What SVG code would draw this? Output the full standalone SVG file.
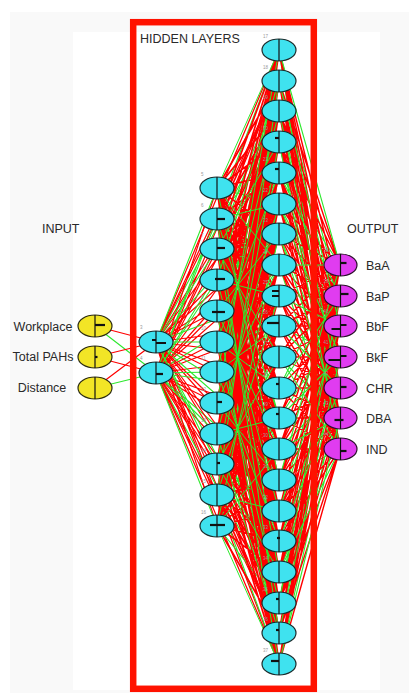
<svg xmlns="http://www.w3.org/2000/svg" width="409" height="693" viewBox="0 0 409 693">
<style>
.r{fill:none;stroke:#ff0000;stroke-width:1.2}
.r2{fill:none;stroke:#ff0000;stroke-width:1.7}
.r3{fill:none;stroke:#ff0000;stroke-width:1.4}
.g{fill:none;stroke:#2ee82e;stroke-width:1.1}
.gt{fill:none;stroke:#2ee82e;stroke-width:1}
.c{fill:#3fe2ef;stroke:#1b2b2b;stroke-width:1.2}
.y{fill:#f2e526;stroke:#2b2b10;stroke-width:1.2}
.m{fill:#e03cf0;stroke:#2b102b;stroke-width:1.2}
.v{stroke:#111;stroke-width:1.2}
.b{stroke:#111;stroke-width:2.2;fill:none}
.i{font-family:"Liberation Sans",Arial,sans-serif;font-size:4.5px;fill:#9a9a9a}
.t{font-family:"Liberation Sans",Arial,sans-serif;font-size:12.5px;fill:#2a2a2a}
</style>
<rect x="10" y="12" width="399" height="681" fill="#f9f9f9"/>
<rect x="73" y="32" width="307" height="658" fill="#ffffff"/>
<g id="connectors">
<path class="r" d="M156 342L279 50M156 342L279 81M156 342L279 142M156 342L279 173M156 342L279 234M156 342L279 265M156 342L279 326M156 342L279 357M156 342L279 388M156 342L279 480M156 342L279 511M156 342L279 541M156 342L279 603M156 342L279 633M156 342L279 664M156 373L279 81M156 373L279 111M156 373L279 142M156 373L279 204M156 373L279 234M156 373L279 265M156 373L279 326M156 373L279 357M156 373L279 418M156 373L279 449M156 373L279 511M156 373L279 541M156 373L279 572M156 373L279 633M156 373L279 664"/>
<path class="g" d="M156 342L279 111M156 342L279 204M156 342L279 296M156 342L279 418M156 342L279 449M156 342L279 572M156 373L279 50M156 373L279 173M156 373L279 296M156 373L279 388M156 373L279 480M156 373L279 603"/>
<path class="r" stroke-width="2.5" d="M95 326L156 342M159 353L162 363"/>
<path class="g" d="M95 326L156 373M95 388L156 373"/>
<path class="r" d="M95 357L156 342M95 357L156 373M95 388L156 342"/>
<path class="r" d="M156 342L217 219M156 342L217 280M156 342L217 311M156 342L217 372M156 342L217 403M156 342L217 434M156 342L217 495M156 342L217 526M156 373L217 188M156 373L217 249M156 373L217 311M156 373L217 342M156 373L217 403M156 373L217 464M156 373L217 495"/>
<path class="g" d="M156 342L217 188M156 342L217 249M156 342L217 342M156 342L217 464M156 373L217 219M156 373L217 280M156 373L217 372M156 373L217 434M156 373L217 526"/>
<path class="g" d="M217 188L279 204M217 188L279 418M217 188L279 633M217 219L279 142M217 219L279 357M217 219L279 572M217 249L279 81M217 249L279 296M217 249L279 511M217 280L279 234M217 280L279 449M217 280L279 664M217 311L279 173M217 311L279 388M217 311L279 603M217 342L279 111M217 342L279 326M217 342L279 541M217 372L279 50M217 372L279 265M217 372L279 480M217 403L279 204M217 403L279 418M217 403L279 633M217 434L279 142M217 434L279 357M217 434L279 572M217 464L279 81M217 464L279 296M217 464L279 511M217 495L279 234M217 495L279 449M217 495L279 664M217 526L279 173M217 526L279 388M217 526L279 603"/>
<path class="r2" d="M217 188L279 81M217 188L279 111M217 188L279 142M217 188L279 173M217 188L279 234M217 188L279 296M217 188L279 326M217 188L279 357M217 188L279 388M217 188L279 449M217 188L279 511M217 188L279 541M217 188L279 572M217 188L279 603M217 188L279 664
M217 219L279 50M217 219L279 81M217 219L279 111M217 219L279 173M217 219L279 234M217 219L279 265M217 219L279 296M217 219L279 326M217 219L279 388M217 219L279 449M217 219L279 480M217 219L279 511M217 219L279 541M217 219L279 603M217 219L279 664
M217 249L279 50M217 249L279 111M217 249L279 173M217 249L279 204M217 249L279 234M217 249L279 265M217 249L279 326M217 249L279 388M217 249L279 418M217 249L279 449M217 249L279 480M217 249L279 541M217 249L279 603M217 249L279 633M217 249L279 664
M217 280L279 50M217 280L279 111M217 280L279 142M217 280L279 173M217 280L279 204M217 280L279 265M217 280L279 326M217 280L279 357M217 280L279 388M217 280L279 418M217 280L279 480M217 280L279 541M217 280L279 572M217 280L279 603M217 280L279 633
M217 311L279 50M217 311L279 81M217 311L279 111M217 311L279 142M217 311L279 204M217 311L279 265M217 311L279 296M217 311L279 326M217 311L279 357M217 311L279 418M217 311L279 480M217 311L279 511M217 311L279 541M217 311L279 572M217 311L279 633
M217 342L279 50M217 342L279 81M217 342L279 142M217 342L279 204M217 342L279 234M217 342L279 265M217 342L279 296M217 342L279 357M217 342L279 418M217 342L279 449M217 342L279 480M217 342L279 511M217 342L279 572M217 342L279 633M217 342L279 664
M217 372L279 81M217 372L279 142M217 372L279 173M217 372L279 204M217 372L279 234M217 372L279 296M217 372L279 357M217 372L279 388M217 372L279 418M217 372L279 449M217 372L279 511M217 372L279 572M217 372L279 603M217 372L279 633M217 372L279 664
M217 403L279 81M217 403L279 111M217 403L279 142M217 403L279 173M217 403L279 234M217 403L279 296M217 403L279 326M217 403L279 357M217 403L279 388M217 403L279 449M217 403L279 511M217 403L279 541M217 403L279 572M217 403L279 603M217 403L279 664
M217 434L279 50M217 434L279 81M217 434L279 111M217 434L279 173M217 434L279 234M217 434L279 265M217 434L279 296M217 434L279 326M217 434L279 388M217 434L279 449M217 434L279 480M217 434L279 511M217 434L279 541M217 434L279 603M217 434L279 664
M217 464L279 50M217 464L279 111M217 464L279 173M217 464L279 204M217 464L279 234M217 464L279 265M217 464L279 326M217 464L279 388M217 464L279 418M217 464L279 449M217 464L279 480M217 464L279 541M217 464L279 603M217 464L279 633M217 464L279 664
M217 495L279 50M217 495L279 111M217 495L279 142M217 495L279 173M217 495L279 204M217 495L279 265M217 495L279 326M217 495L279 357M217 495L279 388M217 495L279 418M217 495L279 480M217 495L279 541M217 495L279 572M217 495L279 603M217 495L279 633
M217 526L279 50M217 526L279 81M217 526L279 111M217 526L279 142M217 526L279 204M217 526L279 265M217 526L279 296M217 526L279 326M217 526L279 357M217 526L279 418M217 526L279 480M217 526L279 511M217 526L279 541M217 526L279 572M217 526L279 633"/>
<path class="gt" d="M217 188L279 50M217 188L279 265M217 188L279 480M217 219L279 204M217 219L279 418M217 219L279 633M217 249L279 142M217 249L279 357M217 249L279 572M217 280L279 81M217 280L279 296M217 280L279 511M217 311L279 234M217 311L279 449M217 311L279 664M217 342L279 173M217 342L279 388M217 342L279 603M217 372L279 111M217 372L279 326M217 372L279 541M217 403L279 50M217 403L279 265M217 403L279 480M217 434L279 204M217 434L279 418M217 434L279 633M217 464L279 142M217 464L279 357M217 464L279 572M217 495L279 81M217 495L279 296M217 495L279 511M217 526L279 234M217 526L279 449M217 526L279 664"/>
<path class="g" d="M279 50L340 449M279 81L340 296M279 111L340 357M279 142L340 418M279 173L340 265M279 204L340 326M279 234L340 388M279 265L340 449M279 296L340 296M279 326L340 357M279 357L340 418M279 388L340 265M279 418L340 326M279 449L340 388M279 480L340 449M279 511L340 296M279 541L340 357M279 572L340 418M279 603L340 265M279 633L340 326M279 664L340 388"/>
<path class="r3" d="M279 50L340 296M279 50L340 326M279 50L340 357M279 50L340 388M279 50L340 418
M279 81L340 265M279 81L340 357M279 81L340 388M279 81L340 418M279 81L340 449
M279 111L340 265M279 111L340 296M279 111L340 326M279 111L340 418M279 111L340 449
M279 142L340 265M279 142L340 296M279 142L340 326M279 142L340 357M279 142L340 388
M279 173L340 326M279 173L340 357M279 173L340 388M279 173L340 418M279 173L340 449
M279 204L340 265M279 204L340 296M279 204L340 388M279 204L340 418M279 204L340 449
M279 234L340 265M279 234L340 296M279 234L340 326M279 234L340 357M279 234L340 449
M279 265L340 296M279 265L340 326M279 265L340 357M279 265L340 388M279 265L340 418
M279 296L340 265M279 296L340 357M279 296L340 388M279 296L340 418M279 296L340 449
M279 326L340 265M279 326L340 296M279 326L340 326M279 326L340 418M279 326L340 449
M279 357L340 265M279 357L340 296M279 357L340 326M279 357L340 357M279 357L340 388
M279 388L340 326M279 388L340 357M279 388L340 388M279 388L340 418M279 388L340 449
M279 418L340 265M279 418L340 296M279 418L340 388M279 418L340 418M279 418L340 449
M279 449L340 265M279 449L340 296M279 449L340 326M279 449L340 357M279 449L340 449
M279 480L340 296M279 480L340 326M279 480L340 357M279 480L340 388M279 480L340 418
M279 511L340 265M279 511L340 357M279 511L340 388M279 511L340 418M279 511L340 449
M279 541L340 265M279 541L340 296M279 541L340 326M279 541L340 418M279 541L340 449
M279 572L340 265M279 572L340 296M279 572L340 326M279 572L340 357M279 572L340 388
M279 603L340 326M279 603L340 357M279 603L340 388M279 603L340 418M279 603L340 449
M279 633L340 265M279 633L340 296M279 633L340 388M279 633L340 418M279 633L340 449
M279 664L340 265M279 664L340 296M279 664L340 326M279 664L340 357M279 664L340 449"/>
<path class="g" d="M279 50L340 265M279 81L340 326M279 111L340 388M279 142L340 449M279 173L340 296M279 204L340 357M279 234L340 418M279 265L340 265M279 296L340 326M279 326L340 388M279 357L340 449M279 388L340 296M279 418L340 357M279 449L340 418M279 480L340 265M279 511L340 326M279 541L340 388M279 572L340 449M279 603L340 296M279 633L340 357M279 664L340 418"/>
</g>
<rect id="hidden-frame" x="133.2" y="22.2" width="180.6" height="666.6" fill="none" stroke="#ff1200" stroke-width="6.5"/>
<text class="t" x="140" y="43" font-size="13">HIDDEN LAYERS</text>
<text class="t" x="42" y="233" font-size="13">INPUT</text>
<text class="t" x="347" y="233">OUTPUT</text>
<g id="in0" transform="translate(95 326)"><ellipse class="y" rx="17" ry="11"/><path class="v" d="M0-11V11"/><path class="b" d="M0-1h10"/></g>
<g id="in1" transform="translate(95 357)"><ellipse class="y" rx="17" ry="11"/><path class="v" d="M0-11V11"/><path class="b" d="M0 0h2.5"/></g>
<g id="in2" transform="translate(95 388)"><ellipse class="y" rx="17" ry="11"/><path class="v" d="M0-11V11"/></g>
<text class="t" x="43" y="331" text-anchor="middle">Workplace</text>
<text class="t" x="43" y="361" text-anchor="middle" font-size="12.2">Total PAHs</text>
<text class="t" x="42" y="392" text-anchor="middle">Distance</text>
<g id="n3" transform="translate(156 342)"><ellipse class="c" rx="17" ry="11"/><path class="v" d="M0-11V11"/><path class="b" d="M-4-2h4M0 1h10"/><text class="i" x="-16" y="-13">3</text></g>
<g id="n4" transform="translate(156 373)"><ellipse class="c" rx="17" ry="11"/><path class="v" d="M0-11V11"/><path class="b" stroke-width="2.6" d="M0 1h7"/><text class="i" x="-16" y="-13">4</text></g>
<g id="n5" transform="translate(217 188)"><ellipse class="c" rx="17" ry="11"/><path class="v" d="M0-11V11"/><text class="i" x="-16" y="-12">5</text></g>
<g id="n6" transform="translate(217 219)"><ellipse class="c" rx="17" ry="11"/><path class="v" d="M0-11V11"/><path class="b" d="M0 0h8"/><text class="i" x="-16" y="-12">6</text></g>
<g id="n7" transform="translate(217 249)"><ellipse class="c" rx="17" ry="11"/><path class="v" d="M0-11V11"/><path class="b" d="M0-1h8"/><text class="i" x="-16" y="-12">7</text></g>
<g id="n8" transform="translate(217 280)"><ellipse class="c" rx="17" ry="11"/><path class="v" d="M0-11V11"/><path class="b" d="M-2-1h10"/><text class="i" x="-16" y="-12">8</text></g>
<g id="n9" transform="translate(217 311)"><ellipse class="c" rx="17" ry="11"/><path class="v" d="M0-11V11"/><path class="b" d="M-5 1h13"/><text class="i" x="-16" y="-12">9</text></g>
<g id="n10" transform="translate(217 342)"><ellipse class="c" rx="17" ry="11"/><path class="v" d="M0-11V11"/><text class="i" x="-16" y="-12">10</text></g>
<g id="n11" transform="translate(217 372)"><ellipse class="c" rx="17" ry="11"/><path class="v" d="M0-11V11"/><text class="i" x="-16" y="-12">11</text></g>
<g id="n12" transform="translate(217 403)"><ellipse class="c" rx="17" ry="11"/><path class="v" d="M0-11V11"/><path class="b" d="M0-1h5"/><text class="i" x="-16" y="-12">12</text></g>
<g id="n13" transform="translate(217 434)"><ellipse class="c" rx="17" ry="11"/><path class="v" d="M0-11V11"/><text class="i" x="-16" y="-12">13</text></g>
<g id="n14" transform="translate(217 464)"><ellipse class="c" rx="17" ry="11"/><path class="v" d="M0-11V11"/><path class="b" d="M0-1h3"/><text class="i" x="-16" y="-12">14</text></g>
<g id="n15" transform="translate(217 495)"><ellipse class="c" rx="17" ry="11"/><path class="v" d="M0-11V11"/><text class="i" x="-16" y="-12">15</text></g>
<g id="n16" transform="translate(217 526)"><ellipse class="c" rx="17" ry="11"/><path class="v" d="M0-11V11"/><path class="b" d="M-7-1h15"/><text class="i" x="-16" y="-12">16</text></g>
<g id="n17" transform="translate(279 50)"><ellipse class="c" rx="17" ry="11"/><path class="v" d="M0-11V11"/><text class="i" x="-16" y="-12">17</text></g>
<g id="n18" transform="translate(279 81)"><ellipse class="c" rx="17" ry="11"/><path class="v" d="M0-11V11"/><text class="i" x="-16" y="-12">18</text></g>
<g id="n19" transform="translate(279 111)"><ellipse class="c" rx="17" ry="11"/><path class="v" d="M0-11V11"/><text class="i" x="-16" y="-12">19</text></g>
<g id="n20" transform="translate(279 142)"><ellipse class="c" rx="17" ry="11"/><path class="v" d="M0-11V11"/><path class="b" d="M-4-4h4"/><text class="i" x="-16" y="-12">20</text></g>
<g id="n21" transform="translate(279 173)"><ellipse class="c" rx="17" ry="11"/><path class="v" d="M0-11V11"/><path class="b" d="M-4-4h4"/><text class="i" x="-16" y="-12">21</text></g>
<g id="n22" transform="translate(279 204)"><ellipse class="c" rx="17" ry="11"/><path class="v" d="M0-11V11"/><text class="i" x="-16" y="-12">22</text></g>
<g id="n23" transform="translate(279 234)"><ellipse class="c" rx="17" ry="11"/><path class="v" d="M0-11V11"/><text class="i" x="-16" y="-12">23</text></g>
<g id="n24" transform="translate(279 265)"><ellipse class="c" rx="17" ry="11"/><path class="v" d="M0-11V11"/><text class="i" x="-16" y="-12">24</text></g>
<g id="n25" transform="translate(279 296)"><ellipse class="c" rx="17" ry="11"/><path class="v" d="M0-11V11"/><path class="b" stroke-width="1.6" d="M-7-5h7M-7 0h7"/><text class="i" x="-16" y="-12">25</text></g>
<g id="n26" transform="translate(279 326)"><ellipse class="c" rx="17" ry="11"/><path class="v" d="M0-11V11"/><path class="b" d="M-12-3h12"/><text class="i" x="-16" y="-12">26</text></g>
<g id="n27" transform="translate(279 357)"><ellipse class="c" rx="17" ry="11"/><path class="v" d="M0-11V11"/><text class="i" x="-16" y="-12">27</text></g>
<g id="n28" transform="translate(279 388)"><ellipse class="c" rx="17" ry="11"/><path class="v" d="M0-11V11"/><path class="b" d="M-3-4h3"/><text class="i" x="-16" y="-12">28</text></g>
<g id="n29" transform="translate(279 418)"><ellipse class="c" rx="17" ry="11"/><path class="v" d="M0-11V11"/><path class="b" d="M-3-4h3"/><text class="i" x="-16" y="-12">29</text></g>
<g id="n30" transform="translate(279 449)"><ellipse class="c" rx="17" ry="11"/><path class="v" d="M0-11V11"/><text class="i" x="-16" y="-12">30</text></g>
<g id="n31" transform="translate(279 480)"><ellipse class="c" rx="17" ry="11"/><path class="v" d="M0-11V11"/><text class="i" x="-16" y="-12">31</text></g>
<g id="n32" transform="translate(279 511)"><ellipse class="c" rx="17" ry="11"/><path class="v" d="M0-11V11"/><text class="i" x="-16" y="-12">32</text></g>
<g id="n33" transform="translate(279 541)"><ellipse class="c" rx="17" ry="11"/><path class="v" d="M0-11V11"/><path class="b" d="M-2-3h3"/><text class="i" x="-16" y="-12">33</text></g>
<g id="n34" transform="translate(279 572)"><ellipse class="c" rx="17" ry="11"/><path class="v" d="M0-11V11"/><text class="i" x="-16" y="-12">34</text></g>
<g id="n35" transform="translate(279 603)"><ellipse class="c" rx="17" ry="11"/><path class="v" d="M0-11V11"/><path class="b" d="M-3-4h3"/><text class="i" x="-16" y="-12">35</text></g>
<g id="n36" transform="translate(279 633)"><ellipse class="c" rx="17" ry="11"/><path class="v" d="M0-11V11"/><path class="b" d="M-3-3h3"/><text class="i" x="-16" y="-12">36</text></g>
<g id="n37" transform="translate(279 664)"><ellipse class="c" rx="17" ry="11"/><path class="v" d="M0-11V11"/><path class="b" d="M-8-3h8"/><text class="i" x="-16" y="-12">37</text></g>
<g id="n38" transform="translate(340.5 265)"><ellipse class="m" rx="16.5" ry="11"/><path class="v" d="M0-11V11"/><path class="b" d="M0-2h6"/><text class="i" x="-17" y="-13">38</text><text class="t" x="25.5" y="4.5">BaA</text></g>
<g id="n39" transform="translate(340.5 296)"><ellipse class="m" rx="16.5" ry="11"/><path class="v" d="M0-11V11"/><path class="b" d="M0-2h8"/><text class="i" x="-17" y="-13">39</text><text class="t" x="25.5" y="4.5">BaP</text></g>
<g id="n40" transform="translate(340.5 326)"><ellipse class="m" rx="16.5" ry="11"/><path class="v" d="M0-11V11"/><path class="b" d="M-9 3h9M0-1h6"/><text class="i" x="-17" y="-13">40</text><text class="t" x="25.5" y="4.5">BbF</text></g>
<g id="n41" transform="translate(340.5 357)"><ellipse class="m" rx="16.5" ry="11"/><path class="v" d="M0-11V11"/><path class="b" d="M-12 3h12M0-1h6"/><text class="i" x="-17" y="-13">41</text><text class="t" x="25.5" y="4.5">BkF</text></g>
<g id="n42" transform="translate(340.5 388)"><ellipse class="m" rx="16.5" ry="11"/><path class="v" d="M0-11V11"/><path class="b" d="M0-1h6"/><text class="i" x="-17" y="-13">42</text><text class="t" x="25.5" y="4.5">CHR</text></g>
<g id="n43" transform="translate(340.5 418)"><ellipse class="m" rx="16.5" ry="11"/><path class="v" d="M0-11V11"/><path class="b" d="M-6 2h9"/><text class="i" x="-17" y="-13">43</text><text class="t" x="25.5" y="4.5">DBA</text></g>
<g id="n44" transform="translate(340.5 449)"><ellipse class="m" rx="16.5" ry="11"/><path class="v" d="M0-11V11"/><path class="b" d="M0 2h6"/><text class="i" x="-17" y="-13">44</text><text class="t" x="25.5" y="4.5">IND</text></g>
</svg>
